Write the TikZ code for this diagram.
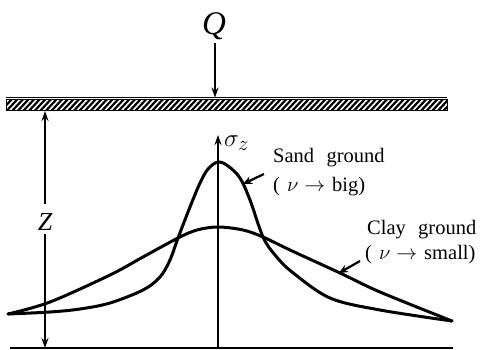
\documentclass[tikz,border=0pt]{standalone}
\usepackage{fontspec}
\setmainfont{Liberation Serif}
\usetikzlibrary{arrows.meta}
\begin{document}
\begin{tikzpicture}[x=1pt,y=-1pt,
  curve/.style={line width=3pt,line cap=round,line join=round},
  thinline/.style={line width=1.6pt},
  arr/.style={-{Stealth[length=10pt,width=7pt]}},
  lblarr/.style={line width=2.2pt,-{Stealth[length=9pt,width=8pt]}},
  lbl/.style={anchor=base west,inner sep=0pt,font=\fontsize{20.5}{24}\selectfont},
  hatchline/.style={line width=2.2pt}]
\useasboundingbox (0,0) rectangle (484,350);
% plate
\coordinate (pl) at (6,100);
\coordinate (pr) at (447,111);
\draw[line width=1pt] (6,97.5) -- (447,97.5);
\begin{scope}
\clip (pl) rectangle (pr);
\foreach \x in {0,5.6,...,460} {\draw[hatchline] (\x,112) -- (\x+12,99);}
\end{scope}
\draw[line width=1pt] (pl) rectangle (pr);
% load Q
\node[inner sep=0pt,font=\fontsize{33}{34}\selectfont\itshape] (Q) at (214,26) {Q};
\coordinate (qt) at (215,43);
\coordinate (qb) at (215,97.5);
\draw[thinline,arr] (qt) -- (qb);
% baseline
\coordinate (bl) at (10,348);
\coordinate (br) at (453,348);
\draw[line width=1.8pt] (bl) -- (br);
% depth z
\node[inner sep=0pt,font=\fontsize{26}{26}\selectfont\itshape] (Z) at (45,222) {Z};
\coordinate (zt) at (45,111);
\coordinate (zb) at (45,348);
\draw[thinline,arr] (45,204) -- (zt);
\draw[thinline,arr] (45,234) -- (zb);
% sigma axis
\coordinate (ab) at (218,348);
\coordinate (at) at (218,135);
\draw[thinline,arr] (ab) -- (at);
\node[anchor=west,inner sep=0pt,font=\fontsize{28}{30}\selectfont] (sig) at (224,143) {$\sigma_z$};
% sand curve
\draw[curve] plot[smooth,tension=0.55] coordinates {(8,314) (50,312) (80,309) (110,303) (143,290) (160,277) (170,260) (178,238) (190,207) (200,183) (208,169) (218,162) (228,166) (240,178) (250,200) (263,237) (275,255) (292,272) (330,298) (380,310) (452,321)};
% clay curve
\draw[curve] plot[smooth,tension=0.55] coordinates {(8,314) (50,302) (110,275) (143,257) (178,238) (197,230) (218,227) (243,230) (263,237) (290,250) (340,273) (380,292) (452,321)};
% labels
\node[lbl] (sand1) at (273,162) {Sand\hspace{0.6em}ground};
\node[lbl] (sand2) at (273,191) {(\hspace{0.35em}$\nu\rightarrow$\hspace{0.35em}big)};
\node[lbl] (clay1) at (367,234) {Clay\hspace{0.6em}ground};
\node[lbl] (clay2) at (365,259) {(\hspace{0.35em}$\nu\rightarrow$\hspace{0.35em}small)};
\coordinate (sa1) at (264,174);
\coordinate (sa2) at (243,184);
\draw[lblarr] (sa1) -- (sa2);
\coordinate (ca1) at (360,261);
\coordinate (ca2) at (339,273);
\draw[lblarr] (ca1) -- (ca2);
\end{tikzpicture}
\end{document}
